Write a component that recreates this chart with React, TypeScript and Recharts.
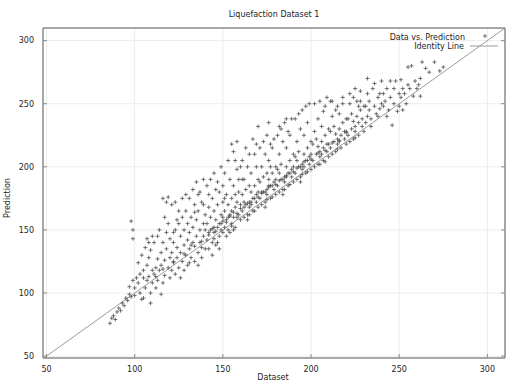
import React from "react";
import { ScatterChart, Scatter, XAxis, YAxis, CartesianGrid, ReferenceLine } from "recharts";

const tickValues = [50, 100, 150, 200, 250, 300];
const axisDomain = [48, 310];

// [dataset, prediction] pairs
const lowRange = [
  [86, 76], [87, 80], [88, 82], [89, 79], [90, 85], [91, 88], [92, 86], [93, 92], [94, 90], [95, 96],
  [96, 94], [97, 99], [98, 97], [97, 105], [99, 110], [100, 104], [100, 98], [98, 157], [99, 150], [99, 143],
  [101, 112], [102, 108], [102, 124], [103, 115], [103, 100], [104, 95], [104, 130], [105, 118], [105, 112],
  [105, 96], [106, 104], [106, 136], [107, 122], [107, 110], [107, 143], [108, 128], [108, 113], [108, 140],
  [109, 100], [109, 134], [109, 92], [110, 118], [110, 108], [110, 145],
];

const range110to130 = [
  [111, 115], [111, 140], [112, 120], [112, 104], [113, 127], [113, 110], [113, 145], [114, 118], [114, 150],
  [115, 132], [115, 122], [115, 99], [116, 108], [116, 140], [116, 175], [117, 126], [117, 114], [117, 160],
  [118, 148], [118, 135], [118, 172], [119, 120], [119, 155], [119, 176], [120, 128], [120, 112], [120, 143],
  [121, 132], [121, 118], [121, 170], [122, 140], [122, 125], [122, 148], [123, 150], [123, 115], [123, 172],
  [124, 136], [124, 128], [124, 158], [125, 155], [125, 120], [125, 165], [126, 145], [126, 132], [126, 112],
  [127, 160], [127, 125], [127, 175], [128, 138], [128, 150], [128, 118], [129, 130], [129, 165], [129, 178],
  [130, 142], [130, 122], [130, 155],
];

const range130to150 = [
  [131, 135], [131, 148], [131, 175], [131, 124], [132, 128], [132, 160], [132, 138], [133, 140], [133, 152],
  [133, 182], [134, 125], [134, 170], [134, 164], [135, 145], [135, 158], [135, 188], [136, 132], [136, 165],
  [136, 178], [136, 122], [137, 150], [137, 140], [137, 180], [138, 172], [138, 128], [138, 136], [139, 155],
  [139, 145], [139, 190], [139, 170], [140, 162], [140, 135], [140, 150],
  [141, 142], [141, 155], [141, 185], [142, 135], [142, 168], [142, 178], [142, 148], [143, 150], [143, 160],
  [143, 190], [144, 140], [144, 175], [144, 130], [145, 148], [145, 165], [145, 195], [145, 152], [146, 138],
  [146, 158], [146, 182], [147, 152], [147, 170], [147, 188], [147, 140], [148, 145], [148, 180], [148, 135],
  [149, 155], [149, 162], [149, 200], [149, 150], [150, 148], [150, 172], [150, 160], [150, 185],
];

const range150to170 = [
  [151, 152], [151, 165], [151, 195], [151, 175], [152, 158], [152, 178], [152, 145], [153, 150], [153, 170],
  [153, 205], [153, 160], [154, 162], [154, 190], [154, 148], [155, 155], [155, 175], [155, 218], [155, 165],
  [156, 160], [156, 185], [156, 212], [156, 150], [157, 168], [157, 152], [157, 205], [157, 178], [158, 172],
  [158, 198], [158, 220], [158, 160], [159, 162], [159, 180], [159, 190], [160, 158], [160, 170], [160, 200],
  [161, 165], [161, 178], [161, 205], [161, 190], [162, 160], [162, 190], [162, 172], [163, 170], [163, 182],
  [163, 215], [164, 162], [164, 200], [164, 158], [165, 172], [165, 168], [165, 210], [165, 185], [166, 180],
  [166, 195], [166, 170], [167, 165], [167, 175], [167, 222], [168, 185], [168, 210], [168, 165], [169, 172],
  [169, 178], [169, 218], [169, 200], [170, 168], [170, 190], [170, 180], [170, 232],
];

const range170to190 = [
  [171, 175], [171, 188], [171, 215], [172, 170], [172, 200], [172, 180], [173, 180], [173, 192], [173, 220],
  [174, 172], [174, 210], [174, 168], [175, 182], [175, 178], [175, 225], [175, 195], [176, 190], [176, 205],
  [176, 185], [176, 235], [177, 175], [177, 185], [177, 218], [177, 200], [178, 195], [178, 215], [178, 176],
  [179, 182], [179, 188], [179, 222], [180, 178], [180, 200], [180, 190],
  [181, 185], [181, 198], [181, 225], [182, 180], [182, 210], [182, 195], [182, 232], [183, 190], [183, 202],
  [183, 230], [184, 182], [184, 220], [184, 178], [185, 192], [185, 188], [185, 235], [186, 200], [186, 215],
  [186, 192], [186, 238], [187, 185], [187, 195], [187, 228], [188, 205], [188, 225], [188, 186], [189, 192],
  [189, 198], [189, 238], [190, 188], [190, 210], [190, 200],
];

const range190to210 = [
  [191, 195], [191, 208], [191, 238], [192, 190], [192, 220], [192, 205], [193, 200], [193, 212], [193, 242],
  [194, 192], [194, 230], [194, 188], [195, 202], [195, 198], [195, 245], [196, 210], [196, 225], [196, 200],
  [197, 195], [197, 205], [197, 248], [198, 215], [198, 235], [198, 196], [199, 202], [199, 208], [199, 250],
  [200, 198], [200, 220], [200, 210],
  [201, 205], [201, 218], [202, 200], [202, 228], [202, 250], [203, 210], [203, 222], [204, 202], [204, 238],
  [204, 216], [205, 212], [205, 208], [205, 252], [206, 220], [206, 232], [206, 210], [207, 205], [207, 215],
  [207, 244], [208, 225], [208, 248], [208, 204], [209, 212], [209, 218], [209, 255], [210, 208], [210, 230],
  [210, 218],
];

const range210to230 = [
  [211, 215], [211, 228], [211, 252], [212, 210], [212, 240], [212, 252], [213, 220], [213, 232], [214, 212],
  [214, 245], [214, 226], [215, 222], [215, 218], [215, 248], [216, 230], [216, 242], [216, 220], [217, 215],
  [217, 225], [218, 235], [218, 250], [218, 255], [219, 222], [219, 228], [220, 218], [220, 238], [220, 228],
  [221, 225], [221, 238], [222, 220], [222, 250], [222, 258], [223, 230], [223, 242], [224, 222], [224, 255],
  [224, 236], [225, 232], [225, 228], [225, 262], [226, 240], [226, 252], [227, 225], [227, 235], [227, 248],
  [228, 245], [228, 260], [228, 252], [229, 232], [229, 238], [230, 228], [230, 248],
];

const highRange = [
  [231, 235], [231, 248], [232, 240], [232, 258], [232, 270], [233, 245], [233, 252], [234, 238], [234, 232],
  [235, 262], [236, 248], [236, 266], [237, 242], [238, 255], [238, 240], [239, 246], [239, 258], [240, 250],
  [240, 268], [241, 248], [241, 258], [242, 252], [243, 262], [243, 240], [244, 245], [245, 255], [245, 268],
  [246, 233], [247, 250], [247, 262], [248, 268], [249, 244], [250, 258], [250, 248], [251, 255], [251, 269],
  [252, 262], [252, 245], [253, 258], [254, 250], [255, 265], [255, 279], [256, 262], [257, 280], [258, 256],
  [259, 268], [260, 262], [261, 265], [262, 270], [262, 256], [263, 283], [265, 278], [267, 275], [270, 283],
  [273, 276], [275, 279],
];

// dense core just above the identity line
const coreBand = [
  [142, 146], [144, 151], [146, 149], [148, 155], [150, 157], [152, 156], [154, 161], [156, 164], [158, 163],
  [160, 167], [162, 168], [164, 171], [166, 172], [168, 175], [170, 176], [172, 179], [174, 180], [176, 184],
  [178, 185], [180, 186], [182, 189], [184, 190], [186, 193], [188, 195], [190, 196], [192, 199], [194, 200],
  [196, 204], [198, 205], [200, 206], [204, 211], [208, 213], [212, 219], [216, 221], [220, 227], [145, 143],
  [155, 153], [165, 162], [175, 174], [185, 182], [195, 194], [205, 202], [215, 214], [225, 223], [138, 141],
  [134, 137], [128, 131], [122, 124], [116, 119], [112, 113],
];

const identityLine = [
  { x: 48, y: 48 },
  { x: 310, y: 310 },
];

const points = [
  ...lowRange,
  ...range110to130,
  ...range130to150,
  ...range150to170,
  ...range170to190,
  ...range190to210,
  ...range210to230,
  ...highRange,
  ...coreBand,
].map(([x, y]) => ({ x, y }));

const FONT = "DejaVu Sans, sans-serif";
const TEXT = "#1e1e1e";
const FRAME = "#8c8c8c";

const Plus = ({ cx, cy }: any) => (
  <path d={`M${cx - 2},${cy}h4M${cx},${cy - 2}v4`} stroke="#505050" strokeWidth={0.8} fill="none" />
);

// ticks point inward like the original; labels sit outside the frame
const BottomTick = ({ x, y, payload }: any) => (
  <g>
    <line x1={x} x2={x} y1={y} y2={y - 4} stroke={FRAME} />
    <text x={x} y={y + 8} dy="0.71em" textAnchor="middle" fontSize={8} fontFamily={FONT} fill={TEXT}>
      {payload.value}
    </text>
  </g>
);

const LeftTick = ({ x, y, payload }: any) => (
  <g>
    <line x1={x} x2={x + 4} y1={y} y2={y} stroke={FRAME} />
    <text x={x - 9} y={y} dy="0.35em" textAnchor="end" fontSize={8} fontFamily={FONT} fill={TEXT}>
      {payload.value}
    </text>
  </g>
);

const TopTick = ({ x, y }: any) => <line x1={x} x2={x} y1={y} y2={y + 4} stroke={FRAME} />;
const RightTick = ({ x, y }: any) => <line x1={x} x2={x - 4} y1={y} y2={y} stroke={FRAME} />;

export default function App() {
  return (
    <div style={{ position: "absolute", left: 0, top: 0, width: 520, height: 390, background: "#fff" }}>
      <ScatterChart width={520} height={390} margin={{ top: 18, right: 5, bottom: 2, left: 13 }}>
        <CartesianGrid stroke="#ececec" />
        <XAxis
          xAxisId={0}
          type="number"
          dataKey="x"
          domain={axisDomain}
          ticks={tickValues}
          interval={0}
          height={30}
          tickSize={0}
          tickMargin={0}
          tick={<BottomTick />}
          stroke={FRAME}
          strokeWidth={1.5}
          allowDataOverflow
        />
        <XAxis
          xAxisId="top"
          orientation="top"
          type="number"
          domain={axisDomain}
          ticks={tickValues}
          interval={0}
          height={10}
          tickSize={0}
          tickMargin={0}
          tick={<TopTick />}
          stroke={FRAME}
          strokeWidth={1.5}
          allowDataOverflow
        />
        <YAxis
          yAxisId={0}
          type="number"
          dataKey="y"
          domain={[48.5, 310]}
          ticks={tickValues}
          interval={0}
          width={30}
          tickSize={0}
          tickMargin={0}
          tick={<LeftTick />}
          stroke={FRAME}
          strokeWidth={1.5}
          allowDataOverflow
        />
        <YAxis
          yAxisId="right"
          orientation="right"
          type="number"
          domain={[48.5, 310]}
          ticks={tickValues}
          interval={0}
          width={10}
          tickSize={0}
          tickMargin={0}
          tick={<RightTick />}
          stroke={FRAME}
          strokeWidth={1.5}
          allowDataOverflow
        />
        <ReferenceLine
          segment={identityLine}
          stroke="#9a9a9a"
          strokeWidth={1}
          ifOverflow="hidden"
        />
        <Scatter data={points} shape={<Plus />} isAnimationActive={false} />
      </ScatterChart>
      <svg
        width={520}
        height={390}
        style={{ position: "absolute", left: 0, top: 0, pointerEvents: "none" }}
        fontFamily={FONT}
        fill={TEXT}
      >
        <text x={274} y={16.5} fontSize={8} textAnchor="middle">Liquefaction Dataset 1</text>
        <text x={273} y={379.5} fontSize={8} textAnchor="middle">Dataset</text>
        <text x={10} y={198} fontSize={8} textAnchor="middle" transform="rotate(-90 10 198)">Prediction</text>
        <text x={465} y={39.5} fontSize={8} textAnchor="end">Data vs. Prediction</text>
        <path d="M483,36h4M485,34v4" stroke="#505050" strokeWidth={0.8} />
        <text x={464} y={49} fontSize={8} textAnchor="end">Identity Line</text>
        <line x1={470} x2={498} y1={46} y2={46} stroke="#9a9a9a" />
      </svg>
    </div>
  );
}
